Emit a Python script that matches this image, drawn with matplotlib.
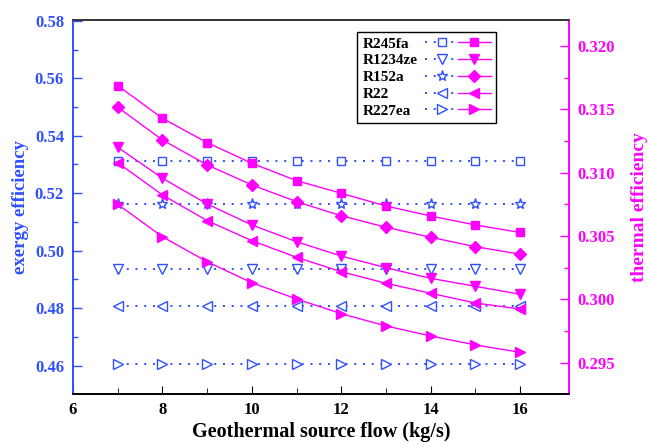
import matplotlib
matplotlib.use('Agg')
import matplotlib.pyplot as plt
from matplotlib.ticker import MultipleLocator, FormatStrFormatter
from matplotlib.legend_handler import HandlerTuple

plt.rcParams['font.family'] = 'Liberation Serif'
plt.rcParams['font.weight'] = 'bold'

flow = [7, 8, 9, 10, 11, 12, 13, 14, 15, 16]
fluids = ['R245fa', 'R1234ze', 'R152a', 'R22', 'R227ea']

# exergy efficiency (left axis), flat over flow
exergy = {
    'R245fa': 0.5313,
    'R1234ze': 0.4935,
    'R152a': 0.5162,
    'R22': 0.4807,
    'R227ea': 0.4605,
}

# thermal efficiency (right axis)
thermal = {
    'R245fa': [0.31687, 0.31429, 0.31237, 0.31074, 0.30937, 0.30837, 0.30737, 0.30658, 0.30587, 0.30528],
    'R1234ze': [0.31200, 0.30956, 0.30753, 0.30587, 0.30455, 0.30342, 0.30250, 0.30166, 0.30103, 0.30040],
    'R152a': [0.31516, 0.31258, 0.31061, 0.30903, 0.30771, 0.30660, 0.30569, 0.30490, 0.30416, 0.30356],
    'R22': [0.31079, 0.30824, 0.30621, 0.30463, 0.30332, 0.30218, 0.30127, 0.30048, 0.29971, 0.29924],
    'R227ea': [0.30750, 0.30494, 0.30297, 0.30131, 0.30003, 0.29887, 0.29790, 0.29711, 0.29640, 0.29582],
}

markers = {'R245fa': 's', 'R1234ze': 'v', 'R152a': '*', 'R22': '<', 'R227ea': '>'}
filled = {'R245fa': 's', 'R1234ze': 'v', 'R152a': 'D', 'R22': '<', 'R227ea': '>'}
msize = {'s': 6, 'v': 7, '*': 8, 'D': 6, '<': 7, '>': 7}

blue = '#2f50ff'
mag = '#ff00ff'

fig = plt.figure(figsize=(6.48, 4.46), dpi=100)
ax = fig.add_axes([0.1127, 0.1166, 0.7658, 0.8386])
ax2 = ax.twinx()

handles = []
for f in fluids:
    hb, = ax.plot(flow, [exergy[f]] * len(flow), color=blue, linestyle=(0, (1, 3.5)), lw=1.4,
                  marker=markers[f], mfc='white', mec=blue, mew=1.0, ms=msize[markers[f]])
    hm, = ax2.plot(flow, thermal[f], color=mag, lw=1.0,
                   marker=filled[f], mfc=mag, mec=mag, ms=msize[filled[f]])
    handles.append((hb, hm))

ax.set_xlim(6, 17.1)
ax.set_ylim(0.4501, 0.5803)
ax2.set_ylim(0.29253, 0.32205)

ax.xaxis.set_major_locator(MultipleLocator(2))
ax.set_xticks([7, 9, 11, 13, 15], minor=True)
ax.yaxis.set_major_locator(MultipleLocator(0.02))
ax.yaxis.set_minor_locator(MultipleLocator(0.01))
ax.yaxis.set_major_formatter(FormatStrFormatter('%.2f'))
ax2.yaxis.set_major_locator(MultipleLocator(0.005))
ax2.yaxis.set_minor_locator(MultipleLocator(0.0025))
ax2.yaxis.set_major_formatter(FormatStrFormatter('%.3f'))

ax.tick_params(axis='x', which='both', direction='in', top=False, labelsize=12, colors='black', pad=6)
ax.tick_params(axis='x', which='major', length=6)
ax.tick_params(axis='x', which='minor', length=4)
ax.tick_params(axis='y', which='both', direction='in', colors=blue, labelsize=12, width=1.0, pad=6.5)
ax.tick_params(axis='y', which='major', length=6.5)
ax.tick_params(axis='y', which='minor', length=3.5)
ax2.tick_params(axis='y', which='both', direction='in', colors=mag, labelsize=12, width=1.0, pad=6)
ax2.tick_params(axis='y', which='major', length=6.5)
ax2.tick_params(axis='y', which='minor', length=3.5)

for a in (ax, ax2):
    a.spines['left'].set_color(blue)
    a.spines['right'].set_color(mag)
    a.spines['top'].set_color('#333333')
    a.spines['bottom'].set_color('black')
    for s in a.spines.values():
        s.set_linewidth(1.2)

ax.set_xlabel('Geothermal source flow (kg/s)', fontsize=14.5, fontweight='bold', labelpad=3)
ax.set_ylabel('exergy efficiency', fontsize=13.5, fontweight='bold', color=blue, labelpad=4)
ax2.set_ylabel('thermal efficiency', fontsize=14, fontweight='bold', color=mag, labelpad=11)

leg = ax2.legend(handles, fluids, handler_map={tuple: HandlerTuple(ndivide=None, pad=0)},
                 loc='upper left', bbox_to_anchor=(0.5726, 0.9687), borderaxespad=0,
                 markerfirst=False, handlelength=4.3, fancybox=False, edgecolor='black',
                 framealpha=1, prop={'family': 'Liberation Serif', 'weight': 'bold', 'size': 11},
                 labelspacing=0.2, borderpad=0.35, handletextpad=0.5)
leg.get_frame().set_linewidth(1.0)

# left-align the legend labels (markerfirst=False right-aligns them)
fig.canvas.draw()
r = fig.canvas.get_renderer()
col = leg._legend_handle_box.get_children()[0]
items = col.get_children()
widths = [it.get_children()[0].get_window_extent(r).width for it in items]
wmax = max(widths)
for it, w in zip(items, widths):
    it.sep = it.sep + (wmax - w) * 72.0 / fig.dpi

fig.savefig('out.png', dpi=100)
